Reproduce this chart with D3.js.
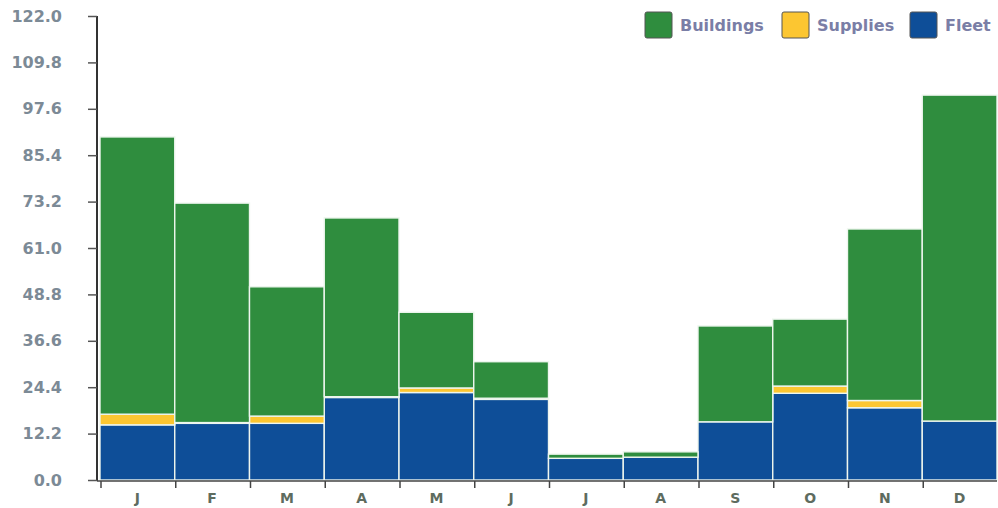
<!DOCTYPE html>
<html>
<head>
<meta charset="utf-8">
<script src="https://cdn.jsdelivr.net/npm/d3@7"></script>
<style>
  body { margin: 0; background: #fff; }
  svg { display: block; font-family: "DejaVu Sans", sans-serif; font-weight: bold; }
</style>
</head>
<body>
<div id="chart"></div>
<script>
// data
const months = ["J", "F", "M", "A", "M", "J", "J", "A", "S", "O", "N", "D"];
const fleet     = [14.5, 14.9, 14.9, 21.7, 23.0, 21.2, 5.7, 6.0, 15.3, 22.8, 19.0, 15.5];
const supplies  = [2.8, 0.2, 1.9, 0.2, 1.2, 0.3, 0.0, 0.0, 0.0, 1.9, 1.9, 0.0];
const buildings = [72.9, 57.7, 34.0, 47.0, 19.9, 9.6, 1.1, 1.4, 25.2, 17.6, 45.1, 85.7];
const yTicks = [0, 12.2, 24.4, 36.6, 48.8, 61.0, 73.2, 85.4, 97.6, 109.8, 122.0];

const keys = ["Fleet", "Supplies", "Buildings"];
const colors = { Fleet: "#0e4e98", Supplies: "#fcc631", Buildings: "#2f8d3e" };
const legendOrder = ["Buildings", "Supplies", "Fleet"];

const W = 998, H = 508;
const svg = d3.select("#chart").append("svg")
    .attr("width", W)
    .attr("height", H);

// build table for d3.stack
const table = months.map((m, i) => ({
    idx: i, Fleet: fleet[i], Supplies: supplies[i], Buildings: buildings[i]
}));
const series = d3.stack().keys(keys)(table);

const x = d3.scaleBand()
    .domain(d3.range(months.length))
    .range([100, 997])
    .paddingInner(0);

const y = d3.scaleLinear()
    .domain([0, 122])
    .range([480, 16]);

// bars
svg.append("g")
  .selectAll("g")
  .data(series)
  .join("g")
    .attr("fill", d => colors[d.key])
  .selectAll("rect")
  .data(d => d)
  .join("rect")
    .attr("x", d => x(d.data.idx))
    .attr("width", x.bandwidth())
    .attr("y", d => y(d[1]))
    .attr("height", d => Math.max(0, y(d[0]) - y(d[1])))
    .attr("stroke", "#eef6ee")
    .attr("stroke-width", 1.4);

// y axis
const yAxis = svg.append("g")
    .attr("transform", "translate(97,0)")
    .call(d3.axisLeft(y).tickValues(yTicks).tickFormat(d3.format(".1f")).tickSize(9).tickPadding(26));
yAxis.select(".domain").attr("stroke", "#333").attr("stroke-width", 2).attr("d", "M0,16V481");
yAxis.selectAll(".tick line").attr("stroke", "#555").attr("stroke-width", 1.5);
yAxis.selectAll(".tick text")
    .attr("fill", "#7c8a96")
    .style("font-size", "16px")
    .style("font-family", "DejaVu Sans, sans-serif")
    .style("font-weight", "bold");

// x axis
const xAxisG = svg.append("g").attr("transform", "translate(0,481)");
xAxisG.append("line")
    .attr("x1", 97).attr("x2", 997)
    .attr("stroke", "#444").attr("stroke-width", 1.5);
xAxisG.selectAll(".xt")
  .data(d3.range(months.length))
  .join("line")
    .attr("class", "xt")
    .attr("x1", d => x(d) + 1).attr("x2", d => x(d) + 1)
    .attr("y1", 0).attr("y2", 7)
    .attr("stroke", "#444").attr("stroke-width", 1.5);
xAxisG.selectAll(".xl")
  .data(months)
  .join("text")
    .attr("class", "xl")
    .attr("x", (d, i) => x(i) + x.bandwidth() / 2)
    .attr("y", 22)
    .attr("text-anchor", "middle")
    .attr("fill", "#5e6c5f")
    .style("font-size", "14px")
    .text(d => d);

// legend
const legendX = [645, 782, 910];
const legend = svg.append("g");
legendOrder.forEach((k, i) => {
    legend.append("rect")
        .attr("x", legendX[i]).attr("y", 12)
        .attr("width", 27).attr("height", 26)
        .attr("rx", 2)
        .attr("fill", colors[k])
        .attr("stroke", "#555").attr("stroke-width", 1);
    legend.append("text")
        .attr("x", legendX[i] + 35).attr("y", 25)
        .attr("dy", "0.35em")
        .attr("fill", "#7a7ea6")
        .style("font-size", "16px")
        .text(k);
});
</script>
</body>
</html>
